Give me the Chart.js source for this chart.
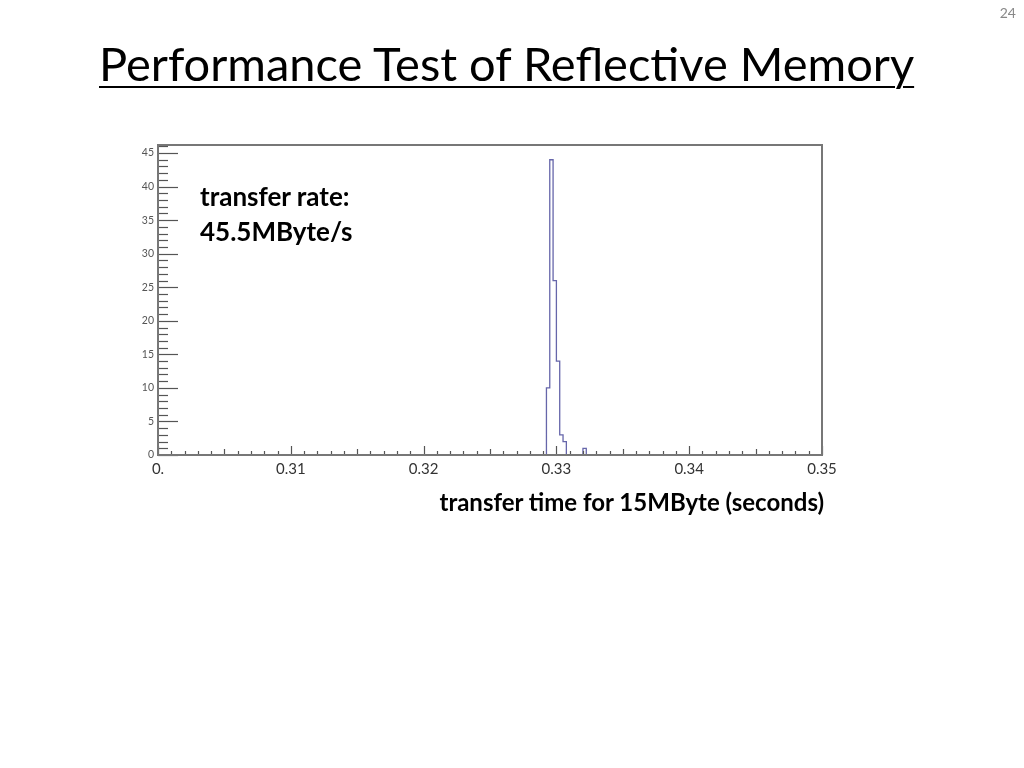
<!DOCTYPE html>
<html>
<head>
<meta charset="utf-8">
<script src="https://cdn.jsdelivr.net/npm/chart.js@4.4.0/dist/chart.umd.min.js"></script>
<style>
  body { margin: 0; background: #fff; font-family: Lato, "Open Sans", sans-serif; }
  #page { position: relative; width: 1024px; height: 768px; overflow: hidden; }
  #chart { position: absolute; left: 0; top: 0; }
  .txt { position: absolute; white-space: nowrap; color: #000; line-height: 1.2; }
  #title { left: 99px; top: 35px; font-size: 47px; text-decoration: underline; text-decoration-thickness: 2px; text-underline-offset: 5px; }
  #pageNo { right: 8px; top: 5px; font-size: 14px; color: #888; }
  #note { left: 200px; top: 179px; font-size: 26px; font-weight: bold; line-height: 35px; }
  #xTitle { right: 200px; top: 488px; font-size: 24px; font-weight: bold; }
</style>
</head>
<body>
<div id="page">
  <canvas id="chart" width="1024" height="768"></canvas>
  <div class="txt" id="title">Performance Test of Reflective Memory</div>
  <div class="txt" id="pageNo">24</div>
  <div class="txt" id="note">transfer rate:<br>45.5MByte/s</div>
  <div class="txt" id="xTitle">transfer time for 15MByte (seconds)</div>
</div>

<script>
// datos del histograma (bins de 0.00025 s)
const xRange = [0.30, 0.35];
const binWidth = 0.00025;
const binLeftEdges = [0.32925, 0.3295, 0.32975, 0.33, 0.33025, 0.3305, 0.33075, 0.331, 0.33125, 0.3315, 0.33175, 0.332];
const binCounts = [10, 44, 26, 14, 3, 2, 0, 0, 0, 0, 0, 1];
const yMax = 46.2;
const xTickValues = [0.30, 0.31, 0.32, 0.33, 0.34, 0.35];
const yTickValues = [0, 5, 10, 15, 20, 25, 30, 35, 40, 45];

// contorno escalonado tipo ROOT
const histPoints = [{ x: xRange[0], y: 0 }, { x: binLeftEdges[0], y: 0 }];
binLeftEdges.forEach((edge, i) => histPoints.push({ x: edge, y: binCounts[i] }));
histPoints.push({ x: binLeftEdges[binLeftEdges.length - 1] + binWidth, y: 0 });
histPoints.push({ x: xRange[1], y: 0 });

// marco y ticks hacia adentro
const frameTicks = {
  id: 'frameTicks',
  afterDatasetsDraw(chart) {
    const { ctx, chartArea: a, scales } = chart;
    const x = scales.x, y = scales.y;
    ctx.save();
    ctx.strokeStyle = '#555';
    ctx.lineWidth = 1.2;
    // ticks eje y: cada 1, mayores cada 5
    for (let v = 0; v <= yMax; v += 1) {
      const py = Math.round(y.getPixelForValue(v)) + 0.5;
      const len = v % 5 === 0 ? 20 : 10;
      ctx.beginPath();
      ctx.moveTo(a.left, py);
      ctx.lineTo(a.left + len, py);
      ctx.stroke();
    }
    // ticks eje x: cada 0.001
    for (let k = 0; k <= 50; k++) {
      const v = xRange[0] + k * 0.001;
      const px = Math.round(x.getPixelForValue(v)) + 0.5;
      const len = k % 10 === 0 ? 9 : (k % 5 === 0 ? 6 : 4);
      ctx.beginPath();
      ctx.moveTo(px, a.bottom);
      ctx.lineTo(px, a.bottom - len);
      ctx.stroke();
    }
    ctx.strokeStyle = '#777';
    ctx.lineWidth = 2;
    ctx.strokeRect(a.left, a.top, a.right - a.left, a.bottom - a.top);
    ctx.restore();
  }
};

new Chart(document.getElementById('chart'), {
  type: 'line',
  data: {
    datasets: [{
      data: histPoints,
      stepped: true,
      borderColor: '#6666aa',
      borderWidth: 1.3,
      pointRadius: 0,
      fill: false
    }]
  },
  options: {
    responsive: false,
    animation: false,
    layout: { padding: { left: 128, right: 202, top: 145, bottom: 283 } },
    plugins: { legend: { display: false }, tooltip: { enabled: false } },
    scales: {
      x: {
        type: 'linear',
        min: xRange[0],
        max: xRange[1],
        afterFit: s => { s.height = 30; },
        afterBuildTicks: s => { s.ticks = xTickValues.map(v => ({ value: v })); },
        grid: { display: false, drawTicks: false },
        border: { display: false },
        ticks: {
          padding: 5,
          maxRotation: 0,
          autoSkip: false,
          color: '#333',
          font: { family: 'Lato', size: 15 },
          callback: v => (Math.abs(v - xRange[0]) < 1e-9 ? '0.' : v.toFixed(2))
        }
      },
      y: {
        min: 0,
        max: yMax,
        afterFit: s => { s.width = 30; },
        afterBuildTicks: s => { s.ticks = yTickValues.map(v => ({ value: v })); },
        grid: { display: false, drawTicks: false },
        border: { display: false },
        ticks: {
          padding: 4,
          autoSkip: false,
          color: '#555',
          font: { family: 'Lato', size: 10.5 }
        }
      }
    }
  },
  plugins: [frameTicks]
});
</script>
</body>
</html>
